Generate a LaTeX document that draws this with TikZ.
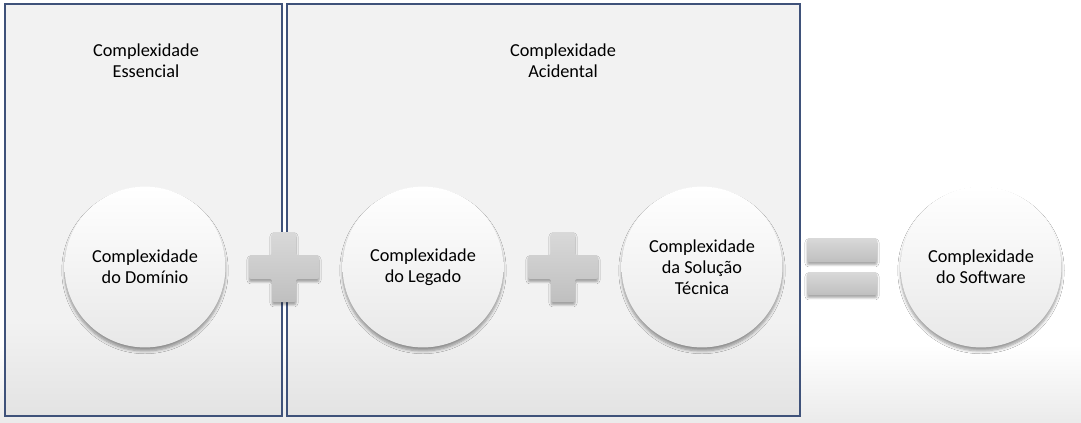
\documentclass[tikz,border=0pt]{standalone}
\usepackage{fontspec}
\setmainfont{Carlito}
\usetikzlibrary{shadows.blur}
\definecolor{framecol}{HTML}{3F527A}
\definecolor{panel}{HTML}{F2F2F2}
\definecolor{panelbot}{HTML}{E3E3E3}

\begin{document}
\begin{tikzpicture}
      [%%%%%%%%%%%%%%%%%%%%%%%%%%%%%%
      x=0.025cm,y=-0.025cm,
      frame/.style={draw=framecol,line width=0.9pt},
      title/.style={align=center,font=\fontsize{13}{15}\selectfont},
      bubble/.style={circle,minimum size=4.02cm,inner sep=0pt,align=center,
        font=\fontsize{13}{15}\selectfont,top color=white,bottom color=black!9,
        blur shadow={shadow xshift=0pt,shadow yshift=-2.5pt,shadow blur radius=2pt,
          shadow blur steps=6,shadow opacity=40}},
      opsign/.style={rounded corners=1.5pt,top color=black!15,bottom color=black!25,
        blur shadow={shadow xshift=0pt,shadow yshift=-2pt,shadow blur radius=1.5pt,
          shadow blur steps=5,shadow opacity=35}},
      ]%%%%%%%%%%%%%%%%%%%%%%%%%%%%%%

      \useasboundingbox (0,0) rectangle (1081,422);
      % background
      \fill[white] (0,0) rectangle (1081,422);
      \shade[top color=white,bottom color=black!8] (0,345) rectangle (1081,422);

      % panels
      \foreach \xa/\xb in {5/282,287/800}{
        \fill[panel] (\xa,4) rectangle (\xb,416);
        \shade[top color=panel,bottom color=panelbot] (\xa,320) rectangle (\xb,416);
        \draw[frame] (\xa,4) rectangle (\xb,416);
      }

      \node[title] (essencial) at (146,61) {Complexidade\\Essencial};
      \node[title] (acidental) at (563,61) {Complexidade\\Acidental};

      \node[bubble] (dominio)  at (145,267) {Complexidade\\do Domínio};
      \node[bubble] (legado)   at (423,267) {Complexidade\\do Legado};
      \node[bubble] (solucao)  at (702,267) {Complexidade\\da Solução\\Técnica};
      \node[bubble] (software) at (981,267) {Complexidade\\do Software};

      % plus signs
      \foreach \cx in {284,563}{
        \path[opsign,shift={(\cx,267)}] (-35,-12) -- (-12,-12) -- (-12,-35) -- (12,-35)
          -- (12,-12) -- (35,-12) -- (35,12) -- (12,12) -- (12,35) -- (-12,35)
          -- (-12,12) -- (-35,12) -- cycle;
      }
      % equals sign
      \path[opsign] (807,238) rectangle (877,262);
      \path[opsign] (807,272) rectangle (877,295);
    \end{tikzpicture}
\end{document}
